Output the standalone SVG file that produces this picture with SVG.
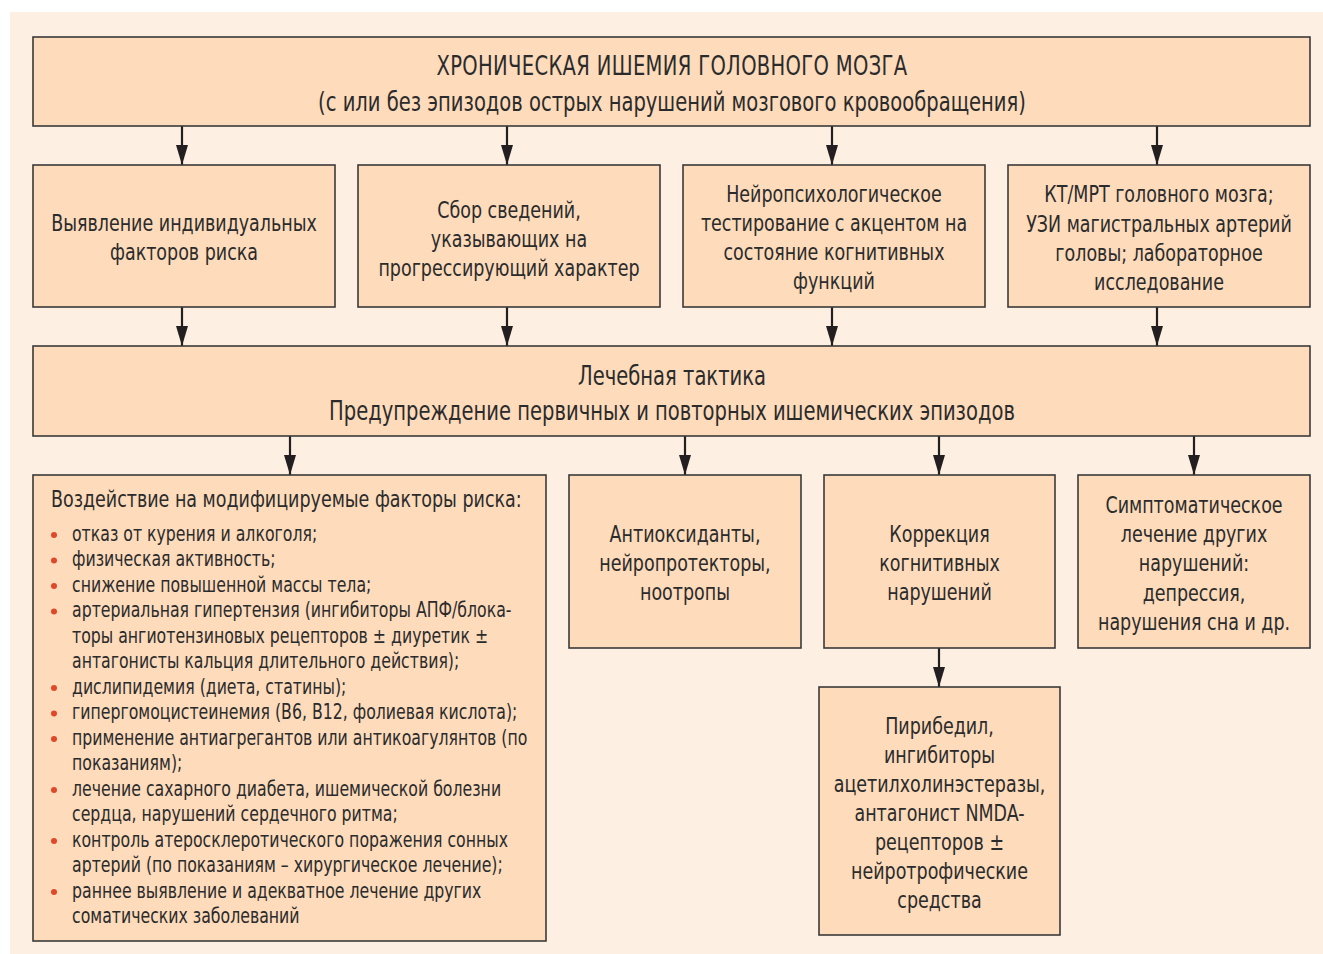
<svg xmlns="http://www.w3.org/2000/svg" width="1323" height="954" viewBox="0 0 1323 954">
<defs>
<style>
.box{fill:#fddbbb;stroke:#3a3a3a;stroke-width:1.6}
.t,.b,.l{font-family:"Liberation Sans Narrow","DejaVu Sans Condensed","Liberation Sans",sans-serif;fill:#2b2b2b}
.t{font-size:23px;text-anchor:middle}
.b{font-size:25.7px;text-anchor:middle}
.l{font-size:20.7px}
.h{font-size:23px}
.c{stroke:#231f20;stroke-width:2.2;fill:none;marker-end:url(#ah)}
.dot{fill:#e0482a}
</style>
<marker id="ah" viewBox="0 0 20 12" refX="20" refY="6" markerWidth="20" markerHeight="12" markerUnits="userSpaceOnUse" orient="auto">
<path d="M0,0 L20,6 L0,12 z" fill="#231f20"/>
</marker>
</defs>
<rect x="0" y="0" width="1323" height="954" fill="#ffffff"/>
<rect x="10" y="12" width="1313" height="942" fill="#fdf0e2"/>

<g id="connectors">
<path class="c" d="M182,126 V165"/>
<path class="c" d="M507,126 V165"/>
<path class="c" d="M832,126 V165"/>
<path class="c" d="M1157,126 V165"/>
<path class="c" d="M182,307 V346"/>
<path class="c" d="M507,307 V346"/>
<path class="c" d="M832,307 V346"/>
<path class="c" d="M1157,307 V346"/>
<path class="c" d="M290,436 V475"/>
<path class="c" d="M685,436 V475"/>
<path class="c" d="M939,436 V475"/>
<path class="c" d="M1194,436 V475"/>
<path class="c" d="M939,648 V687"/>
</g>

<g id="n-top">
<rect class="box" x="33" y="37" width="1277" height="89"/>
<g transform="translate(672,0) scale(0.845,1)">
<text class="b" x="0" y="75" letter-spacing="0.4">ХРОНИЧЕСКАЯ ИШЕМИЯ ГОЛОВНОГО МОЗГА</text>
<text class="b" x="0" y="111">(с или без эпизодов острых нарушений мозгового кровообращения)</text>
</g>
</g>

<g id="n-risk">
<rect class="box" x="33" y="165" width="302" height="142"/>
<g transform="translate(184,0) scale(0.845,1)">
<text class="t" x="0" y="231">Выявление индивидуальных</text>
<text class="t" x="0" y="260">факторов риска</text>
</g>
</g>
<g id="n-history">
<rect class="box" x="358" y="165" width="302" height="142"/>
<g transform="translate(509,0) scale(0.845,1)">
<text class="t" x="0" y="218">Сбор сведений,</text>
<text class="t" x="0" y="247">указывающих на</text>
<text class="t" x="0" y="276">прогрессирующий характер</text>
</g>
</g>
<g id="n-neuro">
<rect class="box" x="683" y="165" width="302" height="142"/>
<g transform="translate(834,0) scale(0.845,1)">
<text class="t" x="0" y="202">Нейропсихологическое</text>
<text class="t" x="0" y="231">тестирование с акцентом на</text>
<text class="t" x="0" y="260">состояние когнитивных</text>
<text class="t" x="0" y="289">функций</text>
</g>
</g>
<g id="n-ct">
<rect class="box" x="1008" y="165" width="302" height="142"/>
<g transform="translate(1159,0) scale(0.845,1)">
<text class="t" x="0" y="202">КТ/МРТ головного мозга;</text>
<text class="t" x="0" y="232">УЗИ магистральных артерий</text>
<text class="t" x="0" y="261">головы; лабораторное</text>
<text class="t" x="0" y="290">исследование</text>
</g>
</g>

<g id="n-tactics">
<rect class="box" x="33" y="346" width="1277" height="90"/>
<g transform="translate(672,0) scale(0.845,1)">
<text class="b" x="0" y="385">Лечебная тактика</text>
<text class="b" x="0" y="420">Предупреждение первичных и повторных ишемических эпизодов</text>
</g>
</g>

<g id="n-modifiable">
<rect class="box" x="33" y="475" width="513" height="466"/>
<g transform="translate(51,0) scale(0.845,1)">
<text class="l h" x="0" y="507">Воздействие на модифицируемые факторы риска:</text>
</g>
<circle class="dot" cx="54" cy="535" r="3"/>
<circle class="dot" cx="54" cy="560.5" r="3"/>
<circle class="dot" cx="54" cy="586" r="3"/>
<circle class="dot" cx="54" cy="611.5" r="3"/>
<circle class="dot" cx="54" cy="688" r="3"/>
<circle class="dot" cx="54" cy="713.5" r="3"/>
<circle class="dot" cx="54" cy="739" r="3"/>
<circle class="dot" cx="54" cy="790" r="3"/>
<circle class="dot" cx="54" cy="841" r="3"/>
<circle class="dot" cx="54" cy="892" r="3"/>
<g transform="translate(72,0) scale(0.845,1)">
<text class="l" x="0" y="541">отказ от курения и алкоголя;</text>
<text class="l" x="0" y="566.5">физическая активность;</text>
<text class="l" x="0" y="592">снижение повышенной массы тела;</text>
<text class="l" x="0" y="617.5">артериальная гипертензия (ингибиторы АПФ/блока-</text>
<text class="l" x="0" y="643">торы ангиотензиновых рецепторов ± диуретик ±</text>
<text class="l" x="0" y="668.5">антагонисты кальция длительного действия);</text>
<text class="l" x="0" y="694">дислипидемия (диета, статины);</text>
<text class="l" x="0" y="719.5">гипергомоцистеинемия (В6, В12, фолиевая кислота);</text>
<text class="l" x="0" y="745">применение антиагрегантов или антикоагулянтов (по</text>
<text class="l" x="0" y="770.5">показаниям);</text>
<text class="l" x="0" y="796">лечение сахарного диабета, ишемической болезни</text>
<text class="l" x="0" y="821.5">сердца, нарушений сердечного ритма;</text>
<text class="l" x="0" y="847">контроль атеросклеротического поражения сонных</text>
<text class="l" x="0" y="872.5">артерий (по показаниям – хирургическое лечение);</text>
<text class="l" x="0" y="898">раннее выявление и адекватное лечение других</text>
<text class="l" x="0" y="923.5">соматических заболеваний</text>
</g>
</g>

<g id="n-antiox">
<rect class="box" x="569" y="475" width="232" height="173"/>
<g transform="translate(685,0) scale(0.845,1)">
<text class="t" x="0" y="542">Антиоксиданты,</text>
<text class="t" x="0" y="571">нейропротекторы,</text>
<text class="t" x="0" y="600">ноотропы</text>
</g>
</g>
<g id="n-cognitive">
<rect class="box" x="824" y="475" width="231" height="173"/>
<g transform="translate(939.5,0) scale(0.845,1)">
<text class="t" x="0" y="542">Коррекция</text>
<text class="t" x="0" y="571">когнитивных</text>
<text class="t" x="0" y="600">нарушений</text>
</g>
</g>
<g id="n-symptom">
<rect class="box" x="1078" y="475" width="232" height="173"/>
<g transform="translate(1194,0) scale(0.845,1)">
<text class="t" x="0" y="513">Симптоматическое</text>
<text class="t" x="0" y="542">лечение других</text>
<text class="t" x="0" y="571">нарушений:</text>
<text class="t" x="0" y="601">депрессия,</text>
<text class="t" x="0" y="630">нарушения сна и др.</text>
</g>
</g>
<g id="n-piribedil">
<rect class="box" x="819" y="687" width="241" height="248"/>
<g transform="translate(939.5,0) scale(0.845,1)">
<text class="t" x="0" y="734">Пирибедил,</text>
<text class="t" x="0" y="763">ингибиторы</text>
<text class="t" x="0" y="792">ацетилхолинэстеразы,</text>
<text class="t" x="0" y="821">антагонист NMDA-</text>
<text class="t" x="0" y="850">рецепторов ±</text>
<text class="t" x="0" y="879">нейротрофические</text>
<text class="t" x="0" y="908">средства</text>
</g>
</g>
</svg>
